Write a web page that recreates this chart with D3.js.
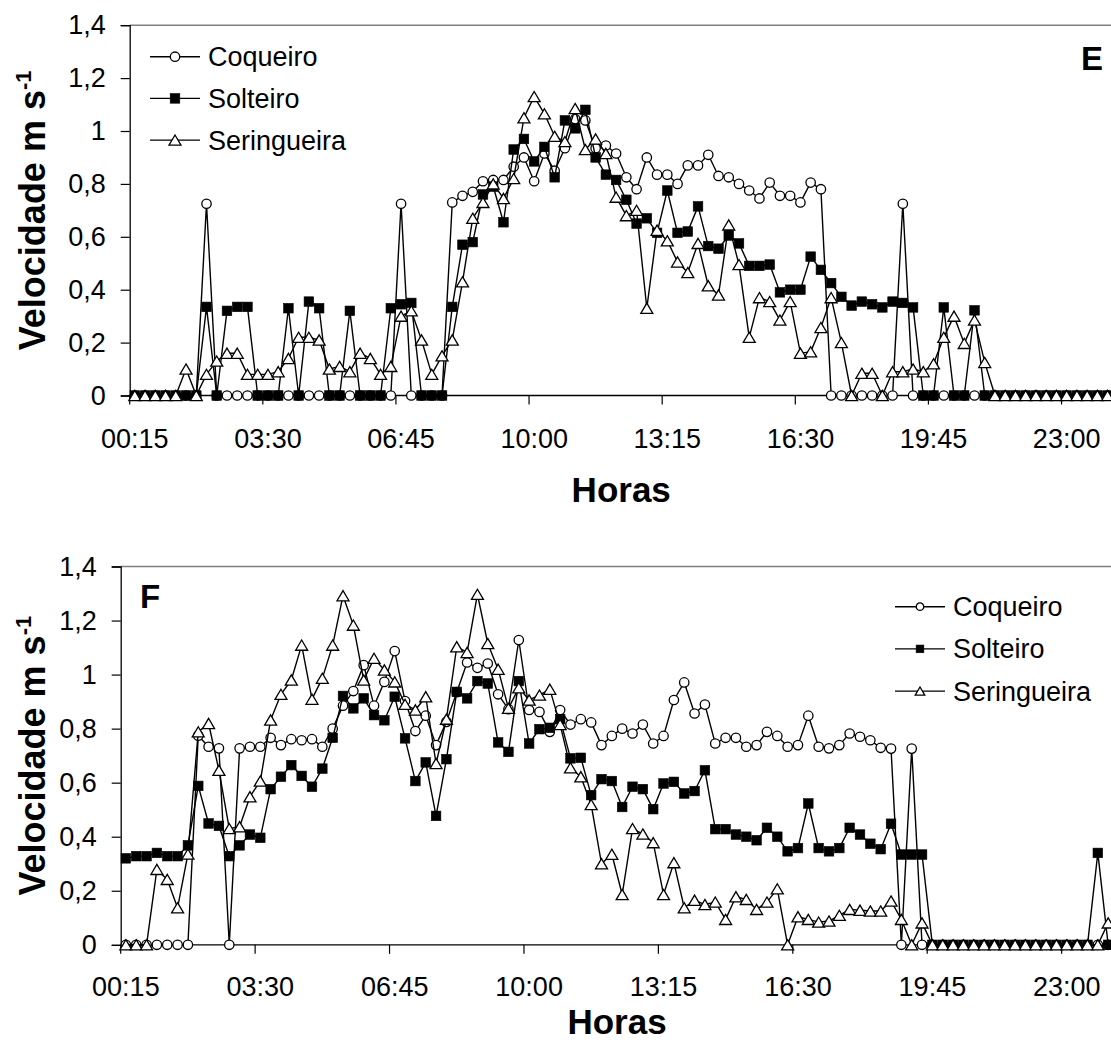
<!DOCTYPE html>
<html><head><meta charset="utf-8">
<script src="https://cdn.jsdelivr.net/npm/d3@7"></script>
<style>
body{margin:0;background:#fff}
svg{display:block}
text{font-family:"Liberation Sans",Arial,sans-serif;fill:#000}
</style>
</head><body>
<svg id="chart" width="1111" height="1045"></svg>
<script>
// ---------- data ----------
const categories = d3.range(96).map(i => {
  const m = (i + 1) * 15;
  const h = Math.floor(m / 60) % 24, mm = m % 60;
  return String(h).padStart(2, "0") + ":" + String(mm).padStart(2, "0");
});
const tickLabels = ["00:15","03:30","06:45","10:00","13:15","16:30","19:45","23:00"];
const yTicks = [0, 0.2, 0.4, 0.6, 0.8, 1, 1.2, 1.4];
const seriesNames = ["Coqueiro", "Solteiro", "Seringueira"];

const coqueiroE = [
  0,0,0,0,0,0,0,0.725,0,0,0,0,
  0,0,0,0,0,0,0,0,0,0,0,0,
  0,0,0.725,0,0,0,0,0.73,0.755,0.77,0.81,0.815,
  0.815,0.865,0.90,0.81,0.915,0.85,0.935,1.045,1.04,0.935,0.945,0.915,
  0.825,0.78,0.90,0.835,0.835,0.80,0.87,0.87,0.91,0.83,0.825,0.80,
  0.775,0.745,0.805,0.755,0.755,0.73,0.805,0.78,0,0,0,0,
  0,0,0,0.725,0,0,0,0,0,0,0,0,
  0,0,0,0,0,0,0,0,0,0,0,0];
const solteiroE = [
  0,0,0,0,0,0,0,0.335,0,0.32,0.335,0.335,
  0,0,0,0.33,0,0.355,0.33,0,0,0.32,0,0,
  0,0.33,0.345,0.35,0,0,0,0.335,0.57,0.58,0.76,0.79,
  0.655,0.93,0.97,0.885,0.94,0.825,1.04,1.01,1.08,0.90,0.835,0.815,
  0.74,0.65,0.67,0.615,0.775,0.615,0.62,0.715,0.565,0.555,0.605,0.575,
  0.49,0.49,0.495,0.39,0.40,0.40,0.525,0.475,0.425,0.373,0.34,0.355,
  0.345,0.333,0.355,0.35,0.333,0,0,0.333,0,0,0.322,0,
  0,0,0,0,0,0,0,0,0,0,0,0];
const seringueiraE = [
  0,0,0,0,0,0.10,0,0.08,0.13,0.16,0.16,0.08,
  0.08,0.08,0.09,0.14,0.22,0.22,0.21,0.10,0.11,0.09,0.16,0.14,
  0.08,0.11,0.30,0.32,0.21,0.08,0.15,0.21,0.43,0.67,0.73,0.80,
  0.745,0.82,1.05,1.13,1.065,0.98,0.96,1.085,0.93,0.97,0.915,0.75,
  0.68,0.70,0.33,0.625,0.585,0.505,0.465,0.575,0.415,0.38,0.645,0.495,
  0.22,0.37,0.355,0.285,0.355,0.16,0.165,0.257,0.37,0.20,0,0.084,
  0.084,0,0.09,0.09,0.10,0.09,0.12,0.22,0.30,0.197,0.285,0.125,
  0,0,0,0,0,0,0,0,0,0,0,0];

const coqueiroF = [
  0,0,0,0,0,0,0,0.774,0.733,0.727,0,0.727,
  0.733,0.733,0.766,0.739,0.761,0.757,0.761,0.733,0.80,0.885,0.939,1.035,
  0.885,0.973,1.087,0.902,0.791,0.848,0.739,0.825,0.935,1.045,1.025,1.041,
  0.927,0.872,1.128,0.869,0.862,0.788,0.869,0.815,0.835,0.823,0.739,0.773,
  0.80,0.782,0.815,0.745,0.773,0.906,0.971,0.856,0.889,0.745,0.766,0.766,
  0.733,0.739,0.788,0.773,0.733,0.739,0.848,0.733,0.727,0.739,0.782,0.77,
  0.757,0.729,0.726,0,0.726,0,0,0,0,0,0,0,
  0,0,0,0,0,0,0,0,0,0,0,0];
const solteiroF = [
  0.32,0.328,0.328,0.34,0.328,0.328,0.368,0.588,0.449,0.44,0.328,0.368,
  0.408,0.396,0.576,0.622,0.665,0.625,0.585,0.652,0.766,0.921,0.875,0.912,
  0.85,0.831,0.918,0.764,0.606,0.675,0.477,0.687,0.936,0.912,0.976,0.967,
  0.749,0.714,0.976,0.745,0.798,0.803,0.835,0.69,0.692,0.554,0.613,0.606,
  0.51,0.585,0.576,0.502,0.597,0.603,0.56,0.569,0.646,0.428,0.428,0.408,
  0.40,0.387,0.433,0.40,0.346,0.358,0.523,0.358,0.346,0.358,0.433,0.408,
  0.374,0.354,0.448,0.334,0.334,0.334,0,0,0,0,0,0,
  0,0,0,0,0,0,0,0,0,0,0.34,0];
const seringueiraF = [
  0,0,0,0.279,0.242,0.137,0.336,0.788,0.819,0.646,0.43,0.437,
  0.548,0.606,0.832,0.927,0.98,1.109,0.909,0.986,1.109,1.292,1.183,0.98,
  1.06,1.017,0.973,0.89,0.869,0.918,0.671,0.835,1.103,1.082,1.297,1.115,
  1.02,0.875,0.951,0.906,0.924,0.946,0.815,0.655,0.622,0.519,0.30,0.335,
  0.186,0.43,0.41,0.378,0.186,0.304,0.137,0.165,0.149,0.158,0.094,0.178,
  0.168,0.131,0.158,0.207,0,0.104,0.094,0.084,0.088,0.109,0.131,0.128,
  0.125,0.125,0.162,0.094,0,0.081,0,0,0,0,0,0,
  0,0,0,0,0,0,0,0,0,0,0,0.081];

// ---------- layout ----------
const panels = [
  { letter: "E", series: [coqueiroE, solteiroE, seringueiraE],
    left: 129.7, band: 10.24, top: 25.2, bottom: 395.5,
    legend: { x: 150, y: 56.7, dy: 41.7, scale: 1 },
    letterPos: { x: 1081, y: 70 }, xLabelY: 448, titleY: 502 },
  { letter: "F", series: [coqueiroF, solteiroF, seringueiraF],
    left: 120.7, band: 10.34, top: 566.5, bottom: 944.8,
    legend: { x: 895, y: 606.7, dy: 42.2, scale: 0.8 },
    letterPos: { x: 140, y: 608 }, xLabelY: 996, titleY: 1034 }
];

const svg = d3.select("#chart");
const fmt = v => String(v).replace(".", ",");

function marker(g, kind, s) {
  const sw = 1.3;
  if (kind === 0) {
    g.append("circle").attr("r", 4.7 * s).attr("fill", "#fff").attr("stroke", "#000").attr("stroke-width", sw);
  } else if (kind === 1) {
    const a = 9.6 * s;
    g.append("rect").attr("x", -a / 2).attr("y", -a / 2).attr("width", a).attr("height", a)
      .attr("fill", "#000").attr("stroke", "#000").attr("stroke-width", 0.6);
  } else {
    const w = 6 * s, h = 5.1 * s;
    g.append("path").attr("d", `M0,${-h}L${w},${h}L${-w},${h}Z`)
      .attr("fill", "#fff").attr("stroke", "#000").attr("stroke-width", sw).attr("stroke-linejoin", "miter");
  }
}

panels.forEach(p => {
  const x = d3.scaleBand().domain(categories).range([p.left, p.left + p.band * categories.length]);
  const y = d3.scaleLinear().domain([0, 1.4]).range([p.bottom, p.top]);
  const g = svg.append("g");
  const right = x.range()[1];

  // plot frame (top/right gray)
  g.append("path")
    .attr("d", `M${p.left},${y(1.4)}H${right}V${y(0)}`)
    .attr("fill", "none").attr("stroke", "#808080").attr("stroke-width", 1.5);

  // y axis
  const yAxis = d3.axisLeft(y).tickValues(yTicks).tickFormat(fmt).tickSize(9).tickPadding(15);
  const ya = g.append("g").attr("transform", `translate(${p.left},0)`).call(yAxis);
  ya.select(".domain").attr("stroke", "#000").attr("stroke-width", 1.3);
  ya.selectAll(".tick line").attr("stroke", "#000").attr("stroke-width", 1.2);
  ya.selectAll(".tick text").attr("font-size", 27).attr("font-family", "Liberation Sans").attr("fill", "#000");

  // x axis line
  g.append("line").attr("x1", p.left).attr("x2", right).attr("y1", y(0)).attr("y2", y(0))
    .attr("stroke", "#000").attr("stroke-width", 1.3);
  // x tick marks every 13 categories at slot boundaries
  d3.range(0, 96, 13).forEach(k => {
    const xx = x(categories[k]);
    g.append("line").attr("x1", xx).attr("x2", xx).attr("y1", y(0)).attr("y2", y(0) + 9)
      .attr("stroke", "#000").attr("stroke-width", 1.2);
  });
  tickLabels.forEach((t, j) => {
    const cat = categories[j * 13];
    g.append("text").attr("x", x(cat) + x.bandwidth() / 2).attr("y", p.xLabelY)
      .attr("text-anchor", "middle").attr("font-size", 27).text(t);
  });

  // axis titles
  g.append("text").attr("x", (p.left + right) / 2).attr("y", p.titleY)
    .attr("text-anchor", "middle").attr("font-size", 35).attr("font-weight", "bold").text("Horas");
  const yt = g.append("text")
    .attr("transform", `translate(45,${(y(0) + y(1.4)) / 2}) rotate(-90)`)
    .attr("text-anchor", "middle").attr("font-size", 36).attr("font-weight", "bold");
  yt.append("tspan").text("Velocidade m s");
  yt.append("tspan").attr("dy", -14).attr("font-size", 22).text("-1");

  // panel letter
  g.append("text").attr("x", p.letterPos.x).attr("y", p.letterPos.y)
    .attr("font-size", 33).attr("font-weight", "bold").text(p.letter);

  // series
  const line = d3.line().x((d, i) => x(categories[i]) + x.bandwidth() / 2).y(d => y(d));
  p.series.forEach((vals, k) => {
    const sg = g.append("g");
    sg.append("path").datum(vals).attr("d", line)
      .attr("fill", "none").attr("stroke", "#000").attr("stroke-width", 1.4).attr("stroke-linejoin", "round");
    vals.forEach((v, i) => {
      const mg = sg.append("g").attr("transform", `translate(${x(categories[i]) + x.bandwidth() / 2},${y(v)})`);
      marker(mg, k, 1);
    });
  });

  // legend
  seriesNames.forEach((name, k) => {
    const ly = p.legend.y + k * p.legend.dy;
    const lg = g.append("g");
    lg.append("line").attr("x1", p.legend.x).attr("x2", p.legend.x + 50).attr("y1", ly).attr("y2", ly)
      .attr("stroke", "#000").attr("stroke-width", 1.4);
    const mg = lg.append("g").attr("transform", `translate(${p.legend.x + 25},${ly})`);
    marker(mg, k, p.legend.scale);
    lg.append("text").attr("x", p.legend.x + 58).attr("y", ly).attr("dy", "0.35em")
      .attr("font-size", 27).text(name);
  });
});
</script>
</body></html>
